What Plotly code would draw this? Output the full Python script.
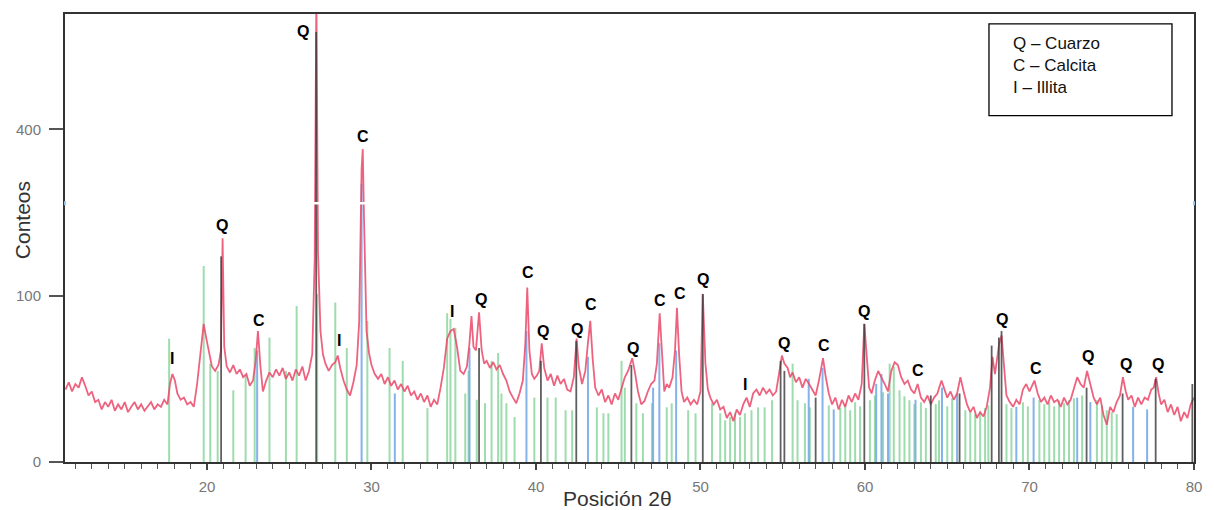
import numpy as np
import plotly.graph_objects as go

# ---------------- data (counts vs 2-theta) ----------------
two_theta = [
    11.4, 11.6, 11.8, 12.0, 12.2, 12.4, 12.6, 12.8, 13.0, 13.2,
    13.4, 13.6, 13.8, 14.0, 14.2, 14.4, 14.6, 14.8, 15.0, 15.2,
    15.4, 15.6, 15.8, 16.0, 16.2, 16.4, 16.6, 16.8, 17.0, 17.2,
    17.4, 17.6, 17.75, 17.9, 18.05, 18.2, 18.4, 18.6, 18.8, 19.0,
    19.2, 19.4, 19.6, 19.8, 19.95, 20.1, 20.3, 20.5, 20.7, 20.85,
    20.95, 21.05, 21.2, 21.4, 21.6, 21.8, 22.0, 22.2, 22.4, 22.6,
    22.8, 22.95, 23.1, 23.25, 23.4, 23.6, 23.8, 24.0, 24.2, 24.4,
    24.6, 24.8, 25.0, 25.2, 25.4, 25.6, 25.8, 26.0, 26.2, 26.4,
    26.55, 26.65, 26.75, 26.9, 27.05, 27.2, 27.4, 27.6, 27.8, 27.95,
    28.1, 28.3, 28.5, 28.7, 28.9, 29.1, 29.25, 29.4, 29.47, 29.55,
    29.7, 29.85, 30.0, 30.2, 30.4, 30.6, 30.8, 31.0, 31.2, 31.4,
    31.6, 31.8, 32.0, 32.2, 32.4, 32.6, 32.8, 33.0, 33.2, 33.4,
    33.6, 33.8, 34.0, 34.2, 34.4, 34.6, 34.8, 35.0, 35.2, 35.4,
    35.6, 35.8, 35.95, 36.08, 36.2, 36.35, 36.54, 36.7, 36.85, 37.0,
    37.2, 37.4, 37.6, 37.8, 38.0, 38.2, 38.4, 38.6, 38.8, 39.0,
    39.2, 39.35, 39.47, 39.6, 39.75, 39.9, 40.05, 40.2, 40.35, 40.5,
    40.7, 40.9, 41.1, 41.3, 41.5, 41.7, 41.9, 42.1, 42.3, 42.47,
    42.6, 42.8, 43.0, 43.15, 43.3, 43.45, 43.6, 43.8, 44.0, 44.2,
    44.4, 44.6, 44.8, 45.0, 45.2, 45.4, 45.6, 45.85, 46.0, 46.2,
    46.4, 46.6, 46.8, 47.0, 47.2, 47.35, 47.52, 47.65, 47.8, 47.95,
    48.1, 48.3, 48.45, 48.57, 48.7, 48.85, 49.0, 49.2, 49.4, 49.6,
    49.8, 50.0, 50.14, 50.3, 50.45, 50.6, 50.8, 51.0, 51.2, 51.4,
    51.6, 51.8, 52.0, 52.2, 52.4, 52.6, 52.8, 53.0, 53.2, 53.4,
    53.6, 53.8, 54.0, 54.2, 54.4, 54.6, 54.8, 54.95, 55.1, 55.3,
    55.45, 55.6, 55.8, 56.0, 56.2, 56.4, 56.6, 56.8, 57.0, 57.2,
    57.45, 57.6, 57.8, 58.0, 58.2, 58.4, 58.6, 58.8, 59.0, 59.2,
    59.4, 59.6, 59.8, 59.96, 60.1, 60.25, 60.4, 60.6, 60.8, 61.0,
    61.2, 61.4, 61.6, 61.8, 62.0, 62.2, 62.4, 62.6, 62.8, 63.0,
    63.2, 63.4, 63.6, 63.8, 64.0, 64.2, 64.4, 64.65, 64.8, 65.0,
    65.2, 65.4, 65.6, 65.8, 66.0, 66.2, 66.4, 66.6, 66.8, 67.0,
    67.2, 67.4, 67.6, 67.75, 67.9, 68.05, 68.15, 68.3, 68.45, 68.6,
    68.8, 69.0, 69.2, 69.4, 69.6, 69.8, 70.0, 70.15, 70.3, 70.5,
    70.7, 70.9, 71.1, 71.3, 71.5, 71.7, 71.9, 72.1, 72.3, 72.5,
    72.7, 72.9, 73.1, 73.3, 73.5, 73.7, 73.9, 74.1, 74.3, 74.5,
    74.7, 74.9, 75.1, 75.3, 75.5, 75.68, 75.85, 76.0, 76.2, 76.4,
    76.6, 76.8, 77.0, 77.2, 77.4, 77.55, 77.7, 77.85, 78.0, 78.2,
    78.4, 78.6, 78.8, 79.0, 79.2, 79.4, 79.6, 79.8, 80.0,
]
counts = [
    19, 23, 18, 22, 20, 26, 21, 16, 18, 13,
    14, 10, 13, 11, 14, 9.5, 12, 10, 13, 9,
    11, 13, 10, 12, 9.5, 11, 13, 10, 12, 11,
    14, 12, 22, 28, 24, 17, 14, 15, 12, 13,
    11, 22, 45, 69, 56, 44, 33, 30, 34, 45,
    181, 48, 33, 29, 34, 28, 31, 26, 28, 21,
    24, 36, 62, 33, 18, 24, 29, 26, 31, 27,
    32, 25, 29, 24, 31, 27, 33, 24, 30, 42,
    150, 800, 160, 62, 42, 35, 30, 34, 36, 41,
    32, 24, 19, 16, 23, 34, 70, 310, 354, 210,
    62, 43, 34, 28, 25, 28, 22, 26, 21, 24,
    19, 22, 18, 21, 16, 18, 14, 17, 13, 16,
    11, 14, 12, 20, 32, 55, 62, 64, 48, 30,
    28, 33, 50, 77, 48, 45, 81, 45, 35, 37,
    32, 36, 31, 34, 28, 24, 18, 15, 12.5, 17,
    24, 50, 110, 45, 28, 25, 27, 30, 51, 32,
    24, 28, 21, 27, 22, 25, 19, 18, 26, 55,
    33, 22, 30, 50, 72, 38, 20, 16, 19, 13,
    16, 12, 17, 14, 19, 26, 30, 39, 30, 18,
    12, 13.5, 18, 22, 24, 35, 80, 45, 18, 22,
    20, 26, 45, 86, 42, 18, 13, 15, 12, 14,
    12, 18, 102, 35, 19, 15, 12, 14, 10, 11,
    7, 9, 6, 10, 8, 12, 15, 11, 17, 19,
    16, 20, 17, 19, 16, 18, 30, 41, 35, 32,
    26, 29, 23, 26, 20, 25, 22, 19, 16, 24,
    39, 27, 17, 12, 15, 10, 14, 11, 16, 13,
    17, 14, 22, 69, 40, 20, 17, 24, 30, 26,
    22, 18, 30, 36, 34, 26, 22, 24, 19, 17,
    22, 15, 13, 16, 12, 15, 17, 24, 20, 15,
    18, 14, 17, 26, 18, 12, 9, 11, 7, 9,
    7.5, 11, 20, 40, 28, 42, 50, 58, 35, 16,
    13, 11, 14, 12, 19, 22, 18, 21, 24, 17,
    13, 15, 12, 16, 13, 14, 11, 15, 12, 14,
    20, 26, 22, 20, 30, 21, 15, 12, 15, 8,
    5, 11, 9, 13, 16, 26, 18, 14, 16, 11,
    15, 12, 15, 14, 19, 20, 26, 17, 12, 14,
    9, 12, 8, 11, 6, 9, 7, 12, 15,
]

# reference sticks: quartz (dark), calcite (blue), other/illite (green)
quartz_theta = [20.86, 26.64, 36.54, 40.30, 42.45, 45.80, 50.14, 54.87, 55.10, 57.00,
                59.96, 64.00, 65.75, 67.70, 68.14, 68.30, 73.47, 75.66, 77.67, 79.90]
quartz_counts = [153, 669, 47, 37, 53, 34, 102, 37, 30, 15,
                 69, 16, 17, 49, 56, 62, 20, 17, 25, 22]

calcite_theta = [23.05, 29.40, 31.42, 35.96, 39.42, 43.16, 47.12, 47.50, 48.52, 56.58,
                 57.42, 58.10, 60.68, 61.00, 61.40, 63.07, 64.68, 65.60, 69.20, 70.25,
                 72.90, 73.70, 76.30, 77.15]
calcite_counts = [45, 280, 17, 47, 62, 40, 20, 51, 45, 25,
                  32, 10, 22, 28, 17, 14, 20, 17, 11, 15,
                  15, 13, 11, 10]

other_theta = [17.70, 19.80, 20.20, 20.65, 21.60, 22.35, 22.90, 23.80, 24.80, 25.45,
               26.70, 27.80, 28.50, 29.75, 31.10, 31.90, 33.40, 34.60, 34.80, 35.10,
               35.70, 35.90, 36.40, 36.90, 37.30, 37.70, 37.90, 38.20, 38.70, 39.90,
               40.70, 41.20, 41.80, 42.20, 43.70, 44.10, 44.40, 45.20, 45.40, 46.10,
               46.50, 47.05, 47.95, 48.25, 49.25, 49.70, 50.70, 51.20, 51.50, 51.80,
               52.10, 52.40, 52.70, 53.10, 53.50, 53.90, 54.35, 55.60, 55.90, 56.35,
               56.65, 57.80, 58.50, 58.80, 59.10, 59.40, 59.70, 60.30, 60.60, 61.10,
               61.50, 61.75, 62.10, 62.40, 62.70, 63.00, 63.40, 63.70, 64.30, 64.50,
               65.00, 65.30, 66.10, 66.40, 66.70, 67.00, 67.30, 67.50, 68.60, 68.90,
               69.60, 69.90, 70.60, 70.90, 71.20, 71.50, 71.80, 72.10, 72.40, 72.70,
               73.20, 74.10, 74.40, 74.70, 75.00, 75.30]
other_counts = [55, 139, 35, 30, 18.6, 27, 47, 56, 30, 88,
                102, 92, 47, 72, 47, 37, 10.5, 80, 74, 65,
                17, 30, 14, 12.5, 37, 43, 17, 12.5, 7.3, 15,
                15, 15, 9.7, 9.7, 10.8, 8.6, 8.6, 37, 20, 12.5,
                8.6, 12.5, 10.8, 12.5, 9.7, 8.6, 12.5, 8.6, 6.3, 7.3,
                8.6, 7.3, 8.6, 9.7, 10.8, 10.8, 13.8, 35, 13.8, 12.5,
                10.8, 11.6, 10.5, 12.1, 9.7, 12.9, 11.2, 13.8, 16, 17.6,
                35, 33, 18.6, 15.6, 13.8, 12.1, 12.9, 10.5, 12.1, 13.8,
                11.2, 14.7, 9.7, 9.0, 8.3, 9.0, 10.5, 11.6, 12.1, 10.5,
                12.9, 11.2, 13.8, 12.1, 12.9, 11.2, 13.8, 12.5, 13.8, 14.7,
                16, 13.8, 11.6, 9.7, 9.0, 8.3]

# phase labels
label_text = ["I", "Q", "C", "Q", "I", "C", "I", "Q", "C", "Q",
              "Q", "C", "Q", "C", "C", "Q", "I", "Q", "C", "Q",
              "C", "Q", "C", "Q", "Q", "Q"]
label_theta = [17.87, 20.91, 23.16, 25.84, 28.02, 29.48, 34.89, 36.66, 39.51, 40.43,
               42.49, 43.34, 45.90, 47.54, 48.75, 50.15, 52.71, 55.08, 57.51, 59.94,
               63.22, 68.33, 70.40, 73.56, 75.87, 77.81]
label_counts = [38.8, 203, 72.3, 669, 53.4, 383, 81.8, 95.3, 129.4, 61.5,
                63.4, 89.5, 46.6, 94.1, 102.4, 120, 21.8, 50.8, 49.1, 81.8,
                30.3, 73.3, 31.7, 40.3, 34.4, 34.4]

x_ticks = [20, 30, 40, 50, 60, 70, 80]
y_ticks = [0, 100, 400]
legend_lines = ["Q – Cuarzo", "C – Calcita", "I – Illita"]

X_RANGE = [11.37, 80.0]
Y_TOP = 726  # counts at top of frame (square-root axis)
SCAN_BREAK = 242  # counts level of the white scan artefact line


def sq(v):
    return float(np.sqrt(v))


def sticks(th, ct):
    xs, ys = [], []
    for t, c in zip(th, ct):
        xs += [t, t, None]
        ys += [0, sq(c), None]
    return xs, ys


FONT = "Liberation Sans, Arial"
fig = go.Figure()

gx, gy = sticks(other_theta, other_counts)
fig.add_trace(go.Scatter(x=gx, y=gy, mode="lines",
                         line=dict(color="rgba(125,208,145,0.75)", width=2),
                         hoverinfo="skip", showlegend=False))
bx, by = sticks(calcite_theta, calcite_counts)
fig.add_trace(go.Scatter(x=bx, y=by, mode="lines",
                         line=dict(color="rgba(110,165,230,0.85)", width=2),
                         hoverinfo="skip", showlegend=False))
fig.add_trace(go.Scatter(x=two_theta, y=[sq(c) for c in counts], mode="lines",
                         line=dict(color="rgba(234,72,104,0.85)", width=1.8),
                         showlegend=False))
qx, qy = sticks(quartz_theta, quartz_counts)
fig.add_trace(go.Scatter(x=qx, y=qy, mode="lines",
                         line=dict(color="rgba(55,55,55,0.8)", width=1.8),
                         hoverinfo="skip", showlegend=False))

for t, c, s in zip(label_theta, label_counts, label_text):
    fig.add_annotation(x=t, y=sq(c), text="<b>" + s + "</b>", showarrow=False,
                       font=dict(family=FONT, size=16, color="black"),
                       xanchor="center", yanchor="middle")

# scan artefact: thin white break across the frame with pale blue marks on borders
fig.add_shape(type="line", xref="paper", yref="y", x0=0, x1=1,
              y0=sq(SCAN_BREAK), y1=sq(SCAN_BREAK),
              line=dict(color="white", width=2.5), layer="above")
for xp in (0, 1):
    fig.add_shape(type="line", xref="paper", yref="y", x0=xp, x1=xp,
                  y0=sq(SCAN_BREAK) - 0.12, y1=sq(SCAN_BREAK) + 0.12,
                  line=dict(color="rgb(150,200,240)", width=2), layer="above")

# axis title annotations
fig.add_annotation(xref="paper", yref="paper", x=0.489, y=-0.082, text="Posición 2θ",
                   showarrow=False, font=dict(family=FONT, size=21, color="#333"),
                   xanchor="center", yanchor="middle")
fig.add_annotation(xref="paper", yref="paper", x=-0.038, y=0.54, text="Conteos",
                   textangle=-90, showarrow=False,
                   font=dict(family=FONT, size=21, color="#333"),
                   xanchor="center", yanchor="middle")

# legend box
fig.add_shape(type="rect", xref="paper", yref="paper", x0=0.8184, x1=0.9805,
              y0=0.7733, y1=0.9778, line=dict(color="black", width=1.3),
              fillcolor="white", layer="above")
fig.add_annotation(xref="paper", yref="paper", x=0.8375, y=0.96,
                   text="<br>".join(legend_lines), showarrow=False, align="left",
                   xanchor="left", yanchor="top",
                   font=dict(family=FONT, size=17, color="#111"))

fig.update_layout(
    width=1214, height=510,
    margin=dict(l=65, r=20, t=12, b=48),
    paper_bgcolor="white", plot_bgcolor="white",
    xaxis=dict(range=X_RANGE, tickvals=x_ticks, ticktext=[str(v) for v in x_ticks],
               showgrid=False, zeroline=False, showline=True, linecolor="#333", linewidth=2,
               mirror=True, ticks="outside", ticklen=6, tickwidth=1.5, tickcolor="#444",
               ticklabelstandoff=4,
               minor=dict(dtick=1, tick0=0, ticks="outside", ticklen=5, tickwidth=1.2, tickcolor="#555"),
               tickfont=dict(family=FONT, size=15, color="#777")),
    yaxis=dict(range=[0, sq(Y_TOP)], tickvals=[sq(v) for v in y_ticks],
               ticktext=[str(v) for v in y_ticks],
               showgrid=False, zeroline=False, showline=True, linecolor="#333", linewidth=2,
               mirror=True, ticks="outside", ticklen=14, tickwidth=1.5, tickcolor="#555",
               ticklabelstandoff=5,
               tickfont=dict(family=FONT, size=15, color="#777")),
)

fig.write_html("out.html")
